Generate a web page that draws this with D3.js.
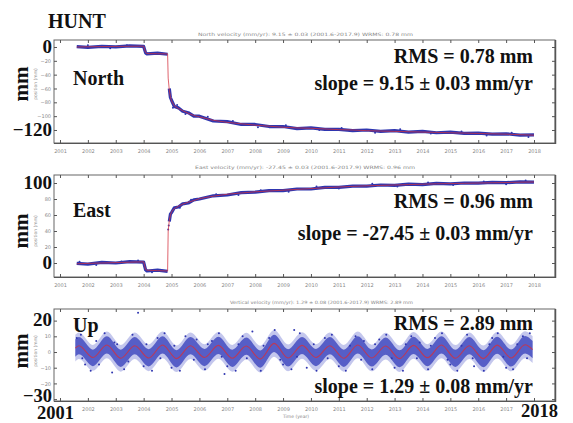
<!DOCTYPE html>
<html><head><meta charset="utf-8">
<script src="https://cdn.jsdelivr.net/npm/d3@7"></script>
<style>
html,body{margin:0;padding:0;background:#fff;}
svg{display:block;}
.big{font-family:"Liberation Serif","Times New Roman",serif;font-weight:bold;fill:#111;}
.tiny{font-family:"DejaVu Sans",sans-serif;fill:#888;}
</style></head>
<body>
<svg id="c" width="573" height="423"></svg>
<script>
// ---------- data ----------
const xTickYears = [2001,2002,2003,2004,2005,2006,2007,2008,2009,2010,2011,2012,2013,2014,2015,2016,2017,2018];
const upTickYears = [2002,2003,2004,2005,2006,2007,2008,2009,2010,2011,2012,2013,2014,2015,2016,2017];

// North
const nYears = [2001.6,2002.0,2002.5,2003.0,2003.5,2004.0,2004.07,2004.12,2004.5,2004.86,2004.88,2004.92,2004.96,2005.0,2005.1,2005.25,2005.4,2005.6,2005.8,2006.0,
  2006.5,2007.0,2007.5,2008.0,2008.5,2009.0,2009.5,2010.0,2010.5,2011.0,2011.5,2012.0,2012.5,2013.0,2013.5,2014.0,2014.5,2015.0,2015.5,2016.0,2016.5,2017.0,2017.5,2018.0];
const nModel = [0,0.3,0.6,0.8,1.0,1.2,-8,-9.5,-9.8,-10,-45,-62,-72,-78,-85,-89,-92,-96,-99,-101,
  -106,-109,-111,-113,-114.5,-116,-117,-117.5,-118.5,-119.5,-120,-121,-121.5,-122,-122.5,-123,-123.5,-124,-124.5,-125,-125.5,-126,-126.8,-127.5];
const nObs = [0.5,-0.5,1.0,0.2,1.5,0.8,-8.5,-10,-9.0,-10.5,null,-60,-73,-77,-86,-88,-93,-95,-100,-100,
  -107,-108,-112,-112,-115,-115,-118,-117,-119,-119,-121,-120,-122,-121,-123,-122,-124,-123,-125,-124.5,-126,-125.5,-127.5,-127];
const nDots = [[2002.0,2.5],[2002.8,-2],[2003.4,2.5],[2005.05,-88],[2005.2,-84],[2005.5,-97],[2006.3,-101],[2007.2,-107],[2008.1,-116],[2009.1,-113],
  [2010.3,-120],[2011.1,-117],[2012.3,-124],[2013.2,-119],[2014.3,-125],[2015.4,-122],[2016.3,-128],[2017.2,-124],[2017.8,-130]];
const nTicks = [-120,-100,-80,-60,-40,-20,0];

// East
const eYears = nYears;
const eModel = [-1,-0.5,0,0.5,1,1.5,-8,-9,-9.5,-10,40,53,60,64,68,71,73.5,76,78,80.5,
  83.5,86,87.5,89,90,91,92,93,94,95,95.8,96.5,97,97.5,98,98.5,99,99.3,99.6,100,100.3,100.6,101,101.3];
const eObs = [-0.5,-1.5,0.8,0,1.8,1.0,-8.5,-10,-9,-10.5,null,52,61,63,69,70,74,75,79,80,
  84,85,88,88.5,90.5,90.5,92.5,92.5,94.5,94.5,96.2,96,97.5,97,98.5,98,99.5,99,100,99.8,100.8,100.4,101.5,101];
const eDots = [[2001.7,1.5],[2002.3,-2.5],[2003.2,2],[2003.8,3],[2004.3,-11.5],[2004.88,42],[2004.9,47],[2005.3,69],[2005.7,79],[2006.6,86],
  [2007.4,85],[2008.2,91],[2009.2,89],[2010.2,95.5],[2011.0,93],[2012.2,99],[2013.1,95.5],[2014.2,100.5],[2015.1,97.5],[2016.2,102],[2017.0,98.5],[2017.7,103]];
const eTicks = [0,20,40,60,80,100];

// Up
const uYears = [2001.55,2001.68,2002.18,2002.68,2003.18,2003.68,2004.18,2004.68,2005.18,2005.68,2006.18,2006.68,2007.18,2007.68,2008.18,2008.68,
  2009.18,2009.68,2010.18,2010.68,2011.18,2011.68,2012.18,2012.68,2013.18,2013.68,2014.18,2014.68,2015.18,2015.68,2016.18,2016.68,2017.18,2017.68,2017.95];
const uModel = [2.5,4.0,-3.5,4.5,-4.0,4.0,-3.8,4.5,-4.2,4.0,-3.5,4.2,-4.0,3.8,-4.5,5.5,-3.8,4.2,-3.5,4.0,-4.0,4.5,-3.8,3.8,-4.2,4.2,-3.6,4.5,-4.0,4.0,-4.2,4.4,-3.8,4.6,1.5];
const uHigh = [8,9.5,1.5,10,1.5,9.5,1.8,10,1.2,9.5,2,9.8,1.5,9.2,1,11,1.8,9.6,2,9.5,1.5,10,1.6,9.3,1.2,9.8,2,10,1.4,9.5,1.2,9.8,1.6,10.2,7];
const uLow = [-3,-1.5,-9,-1,-9.5,-1.5,-9.2,-1,-9.8,-1.5,-9,-1.3,-9.5,-1.7,-10,0,-9.3,-1.3,-9,-1.5,-9.5,-1,-9.3,-1.7,-9.7,-1.3,-9.1,-1,-9.5,-1.5,-9.7,-1.1,-9.3,-0.9,-4];
const uHigh2 = [11,12.5,4.5,13,4.5,12.5,4.8,13,4.2,12.5,5,12.8,4.5,12.2,4,14,4.8,12.6,5,12.5,4.5,13,4.6,12.3,4.2,12.8,5,13,4.4,12.5,4.2,12.8,4.6,13.2,10];
const uLow2 = [-6,-4.5,-12,-4,-12.5,-4.5,-12.2,-4,-12.8,-4.5,-12,-4.3,-12.5,-4.7,-13,-3,-12.3,-4.3,-12,-4.5,-12.5,-4,-12.3,-4.7,-12.7,-4.3,-12.1,-4,-12.5,-4.5,-12.7,-4.1,-12.3,-3.9,-7];
const uDots = [[2001.6,9],[2001.75,11],[2001.9,-8],[2002.1,-12],[2002.3,7],[2002.6,12],[2002.87,-13],[2003.05,5],[2003.3,-11],[2003.6,11],[2003.8,25],
  [2004.0,-9],[2004.3,-12],[2004.5,9],[2004.75,12],[2005.0,-10],[2005.3,-12],[2005.5,10],[2005.9,8],[2006.2,-11],[2006.45,7],[2006.7,12],[2006.9,-14],
  [2007.0,-9],[2007.3,-12],[2007.55,10],[2007.9,13],[2008.2,-12],[2008.5,9],[2008.7,14],[2009.0,-8],[2009.3,-11],[2009.4,14],[2009.6,12],[2009.85,-10],
  [2010.2,-12],[2010.5,9],[2010.75,11],[2011.0,-9],[2011.25,-12],[2011.6,10],[2011.9,7],[2012.2,-11],[2012.45,8],[2012.7,11],[2013.0,-10],[2013.3,-12],
  [2013.6,10],[2013.9,6],[2014.2,-11],[2014.45,9],[2014.7,12],[2015.0,-8],[2015.25,-12],[2015.6,11],[2015.85,-9],[2016.2,-12],[2016.5,9],[2016.7,12],
  [2017.0,-10],[2017.25,-11],[2017.6,10],[2017.85,12],
  [2001.8,-4],[2002.4,-8],[2002.95,6],[2003.45,-6],[2004.1,5],[2004.6,-4],[2005.1,4],[2005.8,-5],[2006.3,5],[2006.8,-3],[2007.4,5],[2007.7,-4],
  [2008.3,4],[2008.9,-5],[2009.5,-3],[2010.1,5],[2010.6,-4],[2011.4,4],[2011.8,-5],[2012.3,5],[2012.9,-4],[2013.4,5],[2013.8,-4],[2014.3,4],
  [2014.9,-5],[2015.4,4],[2015.8,-4],[2016.4,5],[2016.9,-3],[2017.4,5],[2017.75,-4]];
const uTicks = [-30,-20,-10,0,10,20];

const stationName = "HUNT";
const componentNames = ["North","East","Up"];
const rmsTexts = ["RMS = 0.78 mm","RMS = 0.96 mm","RMS = 2.89 mm"];
const slopeTexts = ["slope = 9.15 \u00B1 0.03 mm/yr","slope = -27.45 \u00B1 0.03 mm/yr","slope = 1.29 \u00B1 0.08 mm/yr"];
const bigTickLabels = [[0,-120],[100,0],[20,-30]];
const tinyTitles = ["North velocity (mm/yr): 9.15 \u00B1 0.03 (2001.6-2017.9) WRMS: 0.78 mm",
  "East velocity (mm/yr): -27.45 \u00B1 0.03 (2001.6-2017.9) WRMS: 0.96 mm",
  "Vertical velocity (mm/yr): 1.29 \u00B1 0.08 (2001.6-2017.9) WRMS: 2.89 mm"];

// ---------- layout ----------
const svg = d3.select("#c");
const x = d3.scaleLinear().domain([2000.785, 2018.753]).range([54, 555]);
const BLUE = "#2f36b0", RED = "#d4303c";

const panels = [
  {top:40, bottom:143, dom:[-138.8,10.1], ticks:nTicks, xt:xTickYears, name:componentNames[0], rmsY:63, slopeY:90, nameY:85, mmY:84,
   titleX:[198,413], titleY:36, bigDy:[6,6], bigFs:[19,19]},
  {top:175, bottom:277, dom:[-17.5,110], ticks:eTicks, xt:xTickYears, name:componentNames[1], rmsY:208, slopeY:240, nameY:217, mmY:231,
   titleX:[195,415], titleY:169, bigDy:[6,6], bigFs:[19,19]},
  {top:309, bottom:401, dom:[-31.2,27.4], ticks:uTicks, xt:upTickYears, name:componentNames[2], rmsY:330, slopeY:393, nameY:332, mmY:351,
   titleX:[230,413], titleY:304, bigDy:[5,3], bigFs:[19,18.5]}
];

svg.append("text").attr("class","big").attr("x",48).attr("y",28).attr("font-size",20).text(stationName);

panels.forEach((p,i)=>{
  const y = d3.scaleLinear().domain(p.dom).range([p.bottom,p.top]);
  p.y = y;
  const g = svg.append("g");
  g.append("rect").attr("x",54).attr("y",p.top).attr("width",501).attr("height",p.bottom-p.top)
    .attr("fill","none").attr("stroke","#666").attr("stroke-width",1);
  g.append("line").attr("x1",555.5).attr("x2",555.5).attr("y1",p.top).attr("y2",p.bottom+1).attr("stroke","#555").attr("stroke-width",1.5);
  g.append("line").attr("x1",54).attr("x2",556).attr("y1",p.bottom+0.5).attr("y2",p.bottom+0.5).attr("stroke","#555").attr("stroke-width",1.2);

  const styleAxis = sel => { sel.select(".domain").remove(); sel.selectAll("line").attr("stroke","#555");
    sel.selectAll("text").attr("class","tiny").attr("font-size",5).attr("fill","#888"); };
  const smallTicks = p.ticks.filter(v => !bigTickLabels[i].includes(v));
  g.append("g").attr("transform",`translate(0,${p.bottom})`)
    .call(d3.axisBottom(x).tickValues(xTickYears).tickSize(-3).tickFormat("")).call(styleAxis);
  g.append("g").attr("transform",`translate(0,${p.bottom})`)
    .call(d3.axisBottom(x).tickValues(p.xt).tickSize(0).tickPadding(6).tickFormat(d3.format("d"))).call(styleAxis);
  g.append("g").attr("transform",`translate(0,${p.top})`)
    .call(d3.axisTop(x).tickValues(xTickYears).tickSize(-3).tickFormat("")).call(styleAxis);
  g.append("g").attr("transform",`translate(54,0)`)
    .call(d3.axisLeft(y).tickValues(p.ticks).tickSize(-3).tickFormat("")).call(styleAxis);
  g.append("g").attr("transform",`translate(54,0)`)
    .call(d3.axisLeft(y).tickValues(smallTicks).tickSize(0).tickPadding(3).tickFormat(d3.format("d"))).call(styleAxis);
  g.append("g").attr("transform",`translate(555,0)`)
    .call(d3.axisRight(y).tickValues(p.ticks).tickSize(-3).tickFormat("")).call(styleAxis);

  g.append("text").attr("class","tiny").attr("font-size",4.5).attr("x",p.titleX[0]).attr("y",p.titleY)
    .attr("textLength",p.titleX[1]-p.titleX[0]).attr("lengthAdjust","spacingAndGlyphs").attr("fill","#777").text(tinyTitles[i]);

  g.append("text").attr("class","big").attr("font-size",21).attr("text-anchor","middle")
    .attr("transform",`translate(28,${p.mmY}) rotate(-90)`).text("mm");
  g.append("text").attr("class","tiny").attr("font-size",4.5).attr("text-anchor","middle")
    .attr("transform",`translate(37,${p.mmY}) rotate(-90)`).text("position (mm)");
  bigTickLabels[i].forEach((v,k)=>{
    g.append("text").attr("class","big").attr("font-size",p.bigFs[k]).attr("text-anchor","end")
      .attr("x",52).attr("y",y(v)+p.bigDy[k]).text(d3.format("d")(v));
  });

  g.append("text").attr("class","big").attr("font-size",20).attr("x",73).attr("y",p.nameY).text(p.name);
  g.append("text").attr("class","big").attr("font-size",20).attr("text-anchor","end").attr("x",533).attr("y",p.rmsY).text(rmsTexts[i]);
  g.append("text").attr("class","big").attr("font-size",20).attr("text-anchor","end").attr("x",533).attr("y",p.slopeY).text(slopeTexts[i]);
});

function drawStep(p, years, model, obs, dots){
  const y = p.y;
  const g = svg.append("g");
  const lineObs = d3.line().defined((d,i)=>obs[i]!=null).x((d,i)=>x(years[i])).y((d,i)=>y(obs[i]));
  g.append("path").attr("d",lineObs(years)).attr("fill","none").attr("stroke",BLUE).attr("stroke-width",3.2).attr("stroke-linejoin","round");
  g.selectAll("circle").data(dots).join("circle").attr("cx",d=>x(d[0])).attr("cy",d=>y(d[1])).attr("r",1).attr("fill",BLUE);
  const lineM = d3.line().x((d,i)=>x(years[i])).y((d,i)=>y(model[i]));
  g.append("path").attr("d",lineM(years)).attr("fill","none").attr("stroke",RED).attr("stroke-width",1).attr("opacity",0.75);
}
drawStep(panels[0], nYears, nModel, nObs, nDots);
drawStep(panels[1], eYears, eModel, eObs, eDots);

(function(){
  const p = panels[2], y = p.y, g = svg.append("g");
  const area2 = d3.area().curve(d3.curveMonotoneX).x((d,i)=>x(uYears[i])).y0((d,i)=>y(uLow2[i])).y1((d,i)=>y(uHigh2[i]));
  g.append("path").attr("d",area2(uYears)).attr("fill","#8a90dc").attr("opacity",0.5);
  const area = d3.area().curve(d3.curveMonotoneX).x((d,i)=>x(uYears[i])).y0((d,i)=>y(uLow[i])).y1((d,i)=>y(uHigh[i]));
  g.append("path").attr("d",area(uYears)).attr("fill","#3b43bd").attr("opacity",0.8);
  g.selectAll("circle").data(uDots).join("circle").attr("cx",d=>x(d[0])).attr("cy",d=>y(d[1])).attr("r",1).attr("fill",BLUE);
  const lineM = d3.line().curve(d3.curveMonotoneX).x((d,i)=>x(uYears[i])).y((d,i)=>y(uModel[i]));
  g.append("path").attr("d",lineM(uYears)).attr("fill","none").attr("stroke",RED).attr("stroke-width",1.1).attr("opacity",0.8);
})();

svg.append("text").attr("class","big").attr("font-size",18.5).attr("x",37).attr("y",419.3).text("2001");
svg.append("text").attr("class","big").attr("font-size",18.5).attr("x",521).attr("y",417).text("2018");
svg.append("text").attr("class","tiny").attr("font-size",4.5).attr("x",283).attr("y",418).text("Time (year)");
</script>
</body></html>
